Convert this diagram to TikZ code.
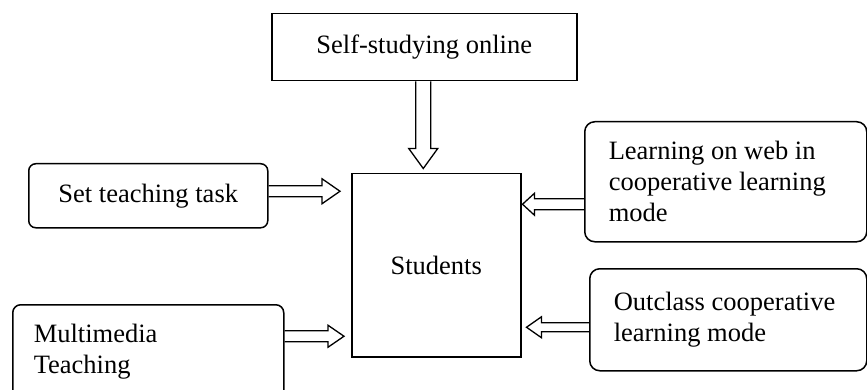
\documentclass[tikz,border=0pt]{standalone}
\usepackage{fontspec}
\setmainfont{Liberation Serif}
\usetikzlibrary{calc}
\tikzset{
  box/.style={draw, line width=1.5pt, inner sep=0pt, anchor=north west,
    font=\fontsize{26.5}{31}\selectfont},
  rbox/.style={box, rounded corners=8pt},
  barrow/.style={draw, line width=1.3pt, line join=miter}
}
% horizontal block arrow: #1 source point (x), #2 tip, #3 half shaft, #4 half head, #5 signed head length
\newcommand\myHarrow[5]{%
  \draw[barrow] let \p1=(#1), \p2=(#2), \n1={\x2-(#5pt)} in
    (\x1,{\y2+#3pt}) -- (\n1,{\y2+#3pt}) -- (\n1,{\y2+#4pt}) -- (\x2,\y2)
    -- (\n1,{\y2-#4pt}) -- (\n1,{\y2-#3pt}) -- (\x1,{\y2-#3pt});}
\begin{document}
\begin{tikzpicture}[x=1pt,y=-1pt]
\useasboundingbox (0,0) rectangle (867,390);
\clip (0,0) rectangle (867,390);

\node[box, minimum width=305pt, minimum height=67pt] (top) at (271,13) {Self-studying online};
\node[box, minimum width=169pt, minimum height=183pt] (stu) at (351,173) {Students};
\node[rbox, rounded corners=7pt, minimum width=239pt, minimum height=64pt] (set) at (28,163) {Set teaching task};
\node[rbox, minimum width=271pt, minimum height=94pt, text width=229pt, align=flush left] (mm) at (12,304) {Multimedia\\Teaching};
\node[rbox, rounded corners=10pt, minimum width=282pt, minimum height=120pt, text width=234pt, align=flush left] (web) at (584,121) {Learning on web in\\cooperative learning\\mode};
\node[rbox, rounded corners=10pt, minimum width=277pt, minimum height=102pt, text width=229pt, align=flush left] (out) at (589,268) {Outclass cooperative\\learning mode};

\coordinate (ttop) at ($(top.south)+(-1,87)$);
\coordinate (tset) at ($(stu.west)+(-11,-74)$);
\coordinate (tmm)  at ($(stu.west)+(-7,71)$);
\coordinate (tweb) at ($(stu.east)+(1,-61)$);
\coordinate (tout) at ($(stu.east)+(5,62)$);

% vertical arrow from top box
\draw[barrow] let \p1=(top.south), \p2=(ttop), \n1={\y2+20pt}, \n2={\x2-7.5pt}, \n3={\x2+7.5pt} in
  (\n2,\y1) -- (\n2,\n1) -- ({\x2-14.5pt},\n1) -- (\x2,\y2)
  -- ({\x2+14.5pt},\n1) -- (\n3,\n1) -- (\n3,\y1);

\myHarrow{set.east}{tset}{5.5}{12.5}{18}
\myHarrow{mm.east}{tmm}{5.5}{11}{16}
\myHarrow{web.west}{tweb}{5.5}{11}{-12}
\myHarrow{out.west}{tout}{4.5}{10.5}{-15}
\end{tikzpicture}
\end{document}
